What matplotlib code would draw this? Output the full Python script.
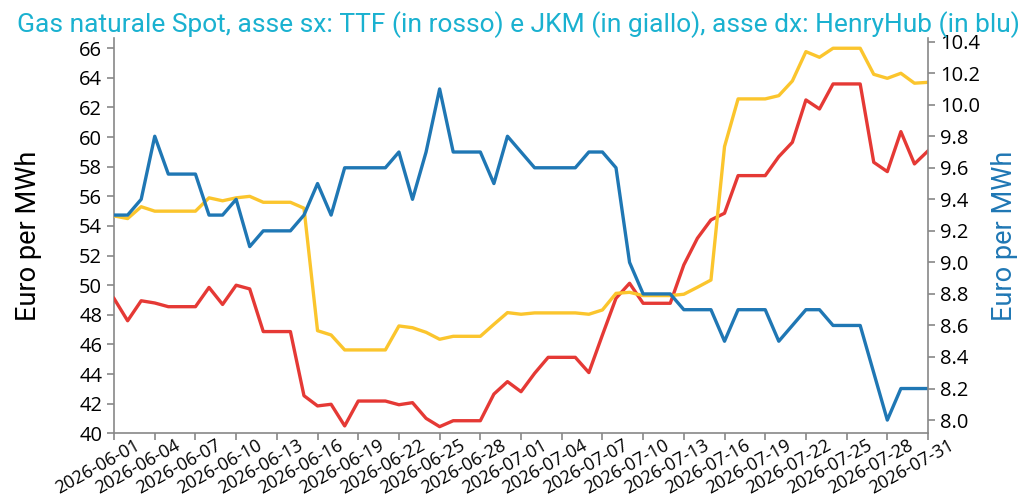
import pandas as pd
import matplotlib
matplotlib.use("Agg")
import matplotlib.pyplot as plt
import matplotlib.transforms as mtrans
from matplotlib.ticker import MultipleLocator, FormatStrFormatter

# daily values 2026-06-01 .. 2026-07-31
dates = pd.date_range("2026-06-01", "2026-07-31", freq="D")

ttf = [49.1, 47.6, 48.95, 48.8, 48.55, 48.55, 48.55, 49.85, 48.7, 50.0,
       49.75, 46.87, 46.87, 46.87, 42.54, 41.85, 41.96, 40.5, 42.18, 42.18,
       42.18, 41.93, 42.07, 41.01, 40.45, 40.85, 40.85, 40.85, 42.65, 43.49,
       42.81, 44.05, 45.13, 45.13, 45.13, 44.1, 46.64, 49.12, 50.13, 48.78,
       48.78, 48.78, 51.37, 53.17, 54.41, 54.86, 57.4, 57.4, 57.4, 58.68,
       59.65, 62.51, 61.9, 63.59, 63.59, 63.59, 58.3, 57.67, 60.37, 58.19,
       59.07]

jkm = [54.68, 54.5, 55.3, 55.0, 55.0, 55.0, 55.0, 55.9, 55.7, 55.9,
       56.0, 55.6, 55.6, 55.6, 55.2, 46.93, 46.64, 45.63, 45.63, 45.63,
       45.63, 47.25, 47.13, 46.82, 46.35, 46.55, 46.55, 46.55, 47.36, 48.15,
       48.04, 48.13, 48.13, 48.13, 48.13, 48.04, 48.33, 49.45, 49.52, 49.3,
       49.3, 49.3, 49.39, 49.86, 50.35, 59.36, 62.58, 62.58, 62.58, 62.8,
       63.79, 65.77, 65.39, 66.0, 66.0, 66.0, 64.24, 63.97, 64.31, 63.64,
       63.7]

henryhub = [9.3, 9.3, 9.4, 9.8, 9.56, 9.56, 9.56, 9.3, 9.3, 9.4,
            9.1, 9.2, 9.2, 9.2, 9.3, 9.5, 9.3, 9.6, 9.6, 9.6,
            9.6, 9.7, 9.4, 9.7, 10.1, 9.7, 9.7, 9.7, 9.5, 9.8,
            9.7, 9.6, 9.6, 9.6, 9.6, 9.7, 9.7, 9.6, 9.0, 8.8,
            8.8, 8.8, 8.7, 8.7, 8.7, 8.5, 8.7, 8.7, 8.7, 8.5,
            8.6, 8.7, 8.7, 8.6, 8.6, 8.6, 8.3, 8.0, 8.2, 8.2,
            8.2]

tick_dates = dates[::3]
tick_labels = [d.strftime("%Y-%m-%d") for d in tick_dates]

title = "Gas naturale Spot, asse sx: TTF (in rosso) e JKM (in giallo), asse dx: HenryHub (in blu)"
ylabel = "Euro per MWh"

RED = "#e53935"
YELLOW = "#fbc52d"
BLUE = "#1f77b4"
GRAY = "#888888"
TICKFONT = "Open Sans"

fig = plt.figure(figsize=(10.34, 5.01), dpi=100)
ax = fig.add_axes([0.1103, 0.1351, 0.7872, 0.7881])
ax2 = ax.twinx()

ax.plot(dates, ttf, color=RED, lw=2.4, zorder=3)
ax.plot(dates, jkm, color=YELLOW, lw=2.4, zorder=3)
ax2.plot(dates, henryhub, color=BLUE, lw=2.4)

ax.set_xlim(dates[0], dates[-1])
ax.set_ylim(40, 66.66)
ax2.set_ylim(7.916, 10.42)

ax.yaxis.set_major_locator(MultipleLocator(2))
ax2.yaxis.set_major_locator(MultipleLocator(0.2))
ax2.yaxis.set_major_formatter(FormatStrFormatter("%.1f"))
ax.set_xticks(tick_dates)
ax.set_xticklabels(tick_labels)

for a in (ax, ax2):
    a.spines["top"].set_visible(False)
    for s in ("left", "right", "bottom"):
        a.spines[s].set_color(GRAY)
        a.spines[s].set_linewidth(1.2)
    a.tick_params(colors=GRAY, length=5, width=1.2, labelcolor="black")
ax.spines["right"].set_visible(False)
ax2.spines["left"].set_visible(False)
ax2.spines["bottom"].set_visible(False)

for lbl in ax.get_yticklabels() + ax2.get_yticklabels():
    lbl.set_fontfamily(TICKFONT)
    lbl.set_fontsize(14.5)

# rotated date labels, nudged right/up like the original
offset = mtrans.ScaledTranslation(20 / 100, 9 / 100, fig.dpi_scale_trans)
for lbl in ax.get_xticklabels():
    lbl.set_fontfamily(TICKFONT)
    lbl.set_fontsize(13)
    lbl.set_rotation(29)
    lbl.set_ha("right")
    lbl.set_va("top")
    lbl.set_rotation_mode("anchor")
    lbl.set_transform(lbl.get_transform() + offset)

ax.set_ylabel(ylabel, fontfamily="Roboto", fontsize=19.5, color="black")
ax.yaxis.set_label_coords(-0.0885, 0.5)
ax2.set_ylabel(ylabel, fontfamily="Roboto", fontsize=19.5, color=BLUE, rotation=90)
ax2.yaxis.set_label_coords(1.077, 0.5)

fig.text(17 / 1034, 1 - 32 / 501, title, fontfamily="Roboto", fontsize=19,
         color="#1ab1d0", ha="left", va="baseline")

fig.savefig("out.png", dpi=100)
